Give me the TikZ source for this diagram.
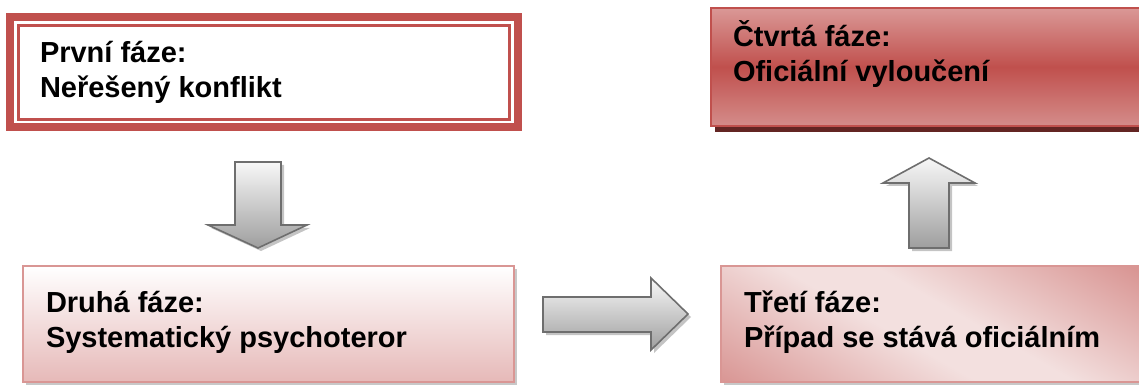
\documentclass[tikz,border=0pt]{standalone}
\usepackage{fontspec}
\setmainfont{Liberation Sans}
\usetikzlibrary{calc}
\definecolor{accred}{HTML}{C0504D}
\definecolor{accpink}{HTML}{D99694}
\definecolor{acctop}{HTML}{DA9896}
\definecolor{accbot}{HTML}{D48C8A}
\definecolor{accpale}{HTML}{E6B9B8}
\definecolor{acclight}{HTML}{F3E0DF}
\definecolor{accdark}{HTML}{632523}
\definecolor{arrline}{HTML}{6E6E6E}
\definecolor{arrshadow}{HTML}{C4C4C4}
\definecolor{boxshadow}{HTML}{C8C8C8}
\pgfdeclareverticalshading{redband}{100bp}{color(0bp)=(accbot); color(25bp)=(accbot); color(50bp)=(accred); color(75bp)=(acctop); color(100bp)=(acctop)}
\pgfdeclarehorizontalshading{pinkmirror}{100bp}{color(0bp)=(accpink); color(31bp)=(accpink); color(47bp)=(acclight); color(53bp)=(acclight); color(69bp)=(accpink); color(100bp)=(accpink)}
\tikzset{
  plain/.style={inner sep=0pt, outer sep=0pt, anchor=north west},
  framethick/.style={plain, draw=accred, line width=8pt, fill=white},
  framethin/.style={plain, draw=accred, line width=2.5pt},
  paleshadow/.style={plain, fill=boxshadow},
  palebox/.style={plain, draw=accpink, line width=1.5pt, top color=white, bottom color=accpale},
  mirrorbox/.style={plain, draw=accpink, line width=1.5pt},
  darkshadow/.style={plain, fill=accdark},
  redbox/.style={plain, draw=accred, line width=1.5pt, shading=redband},
  lbl/.style={inner sep=0pt, outer sep=0pt, anchor=base west, align=left,
    font=\fontsize{29}{35}\selectfont\bfseries},
  blockarrow/.style={draw=arrline, line width=1.6pt, line join=miter, top color=black!3, bottom color=black!38},
  blockshadow/.style={fill=arrshadow}
}
\begin{document}
\begin{tikzpicture}[x=1pt, y=-1pt]
\useasboundingbox (0,0) rectangle (1139,387);
\clip (0,0) rectangle (1139,387);
% box 1
\node[framethick, minimum width=507.5pt, minimum height=110.5pt] (p1) at (10,17) {};
\node[framethin, minimum width=490.8pt, minimum height=94.2pt] (p1in) at (18.7,25.3) {};
\node[lbl] (t1) at (40,98) {První fáze:\\Neřešený konflikt};
% box 4
\node[darkshadow, minimum width=440pt, minimum height=118pt] (p4s) at (715,14) {};
\node[redbox, minimum width=440pt, minimum height=118pt] (p4) at (711,8) {};
\node[lbl] (t4) at (733,82) {Čtvrtá fáze:\\Oficiální vyloučení};
% box 2
\node[paleshadow, minimum width=491pt, minimum height=116pt] (p2s) at (26,269) {};
\node[palebox, minimum width=491pt, minimum height=116pt] (p2) at (23,266) {};
\node[lbl] (t2) at (46,347) {Druhá fáze:\\Systematický psychoteror};
% box 3
\node[paleshadow, minimum width=440pt, minimum height=116pt] (p3s) at (724,269) {};
\begin{scope}
  \clip (721,266) rectangle (1161,382);
  \begin{scope}[transform canvas={rotate around={60:(930,326)}}]
    \shade[shading=pinkmirror] (730,-174) rectangle (1130,826);
  \end{scope}
\end{scope}
\node[mirrorbox, minimum width=440pt, minimum height=116pt] (p3) at (721,266) {};
\node[lbl] (t3) at (744,347) {Třetí fáze:\\Případ se stává oficiálním};
% down arrow
\fill[blockshadow, shift={(3,3)}] (235,162) -- (281,162) -- (281,225) -- (307,225) -- (258,248) -- (208,225) -- (235,225) -- cycle;
\path[blockarrow] (235,162) -- (281,162) -- (281,225) -- (307,225) -- (258,248) -- (208,225) -- (235,225) -- cycle;
% right arrow
\fill[blockshadow, shift={(3,3)}] (543,297) -- (651,297) -- (651,278) -- (688,314) -- (651,350) -- (651,332) -- (543,332) -- cycle;
\path[blockarrow] (543,297) -- (651,297) -- (651,278) -- (688,314) -- (651,350) -- (651,332) -- (543,332) -- cycle;
% up arrow
\fill[blockshadow, shift={(3,3)}] (909,248) -- (909,183) -- (883,183) -- (929,158) -- (975,183) -- (949,183) -- (949,248) -- cycle;
\path[blockarrow] (909,248) -- (909,183) -- (883,183) -- (929,158) -- (975,183) -- (949,183) -- (949,248) -- cycle;
\end{tikzpicture}
\end{document}
